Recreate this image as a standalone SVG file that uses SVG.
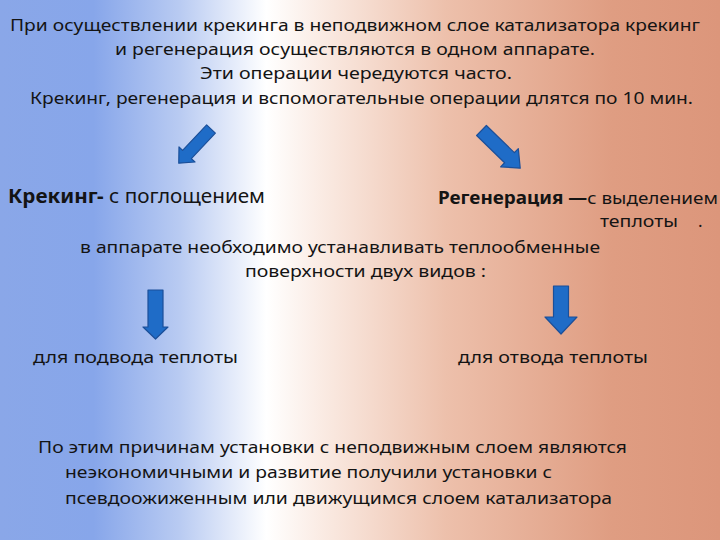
<svg xmlns="http://www.w3.org/2000/svg" width="720" height="540" viewBox="0 0 720 540">
  <defs>
    <linearGradient id="bg" x1="0" y1="0" x2="720" y2="0" gradientUnits="userSpaceOnUse">
      <stop offset="0" stop-color="#8AA7E8"/>
      <stop offset="0.13" stop-color="#87A6EA"/>
      <stop offset="0.25" stop-color="#B9CBF2"/>
      <stop offset="0.37" stop-color="#FFFFFF"/>
      <stop offset="0.45" stop-color="#FAEAE2"/>
      <stop offset="0.62" stop-color="#EDC0AB"/>
      <stop offset="0.85" stop-color="#DF9D82"/>
      <stop offset="1" stop-color="#DC967B"/>
    </linearGradient>
    <path id="arrowShape" d="M0,-6 L-0,-6 Z"/>
  </defs>
  <style>
    text { font-family: "Noto Sans", "Open Sans", "DejaVu Sans", sans-serif; fill: #141414; }
    .t { font-size: 17px; }
    .h { font-size: 19px; }
    .b { font-weight: bold; }
    .s { font-size: 16px; }
    .arrow { fill: #1F6CC7; stroke: #1B4F99; stroke-width: 1.2; stroke-linejoin: round; }
  </style>
  <rect x="0" y="0" width="720" height="540" fill="url(#bg)"/>

  <g id="intro">
    <text class="t" x="10" y="31" textLength="690" lengthAdjust="spacingAndGlyphs">При осуществлении крекинга в неподвижном слое катализатора крекинг</text>
    <text class="t" x="115" y="55" textLength="480" lengthAdjust="spacingAndGlyphs">и регенерация осуществляются в одном аппарате.</text>
    <text class="t" x="200" y="79" textLength="312" lengthAdjust="spacingAndGlyphs">Эти операции чередуются часто.</text>
    <text class="t" x="30" y="104" textLength="663" lengthAdjust="spacingAndGlyphs">Крекинг, регенерация и вспомогательные операции длятся по 10 мин.</text>
  </g>

  <g id="cracking">
    <text class="h" x="8" y="203" textLength="257" lengthAdjust="spacingAndGlyphs"><tspan class="b">Крекинг-</tspan> с поглощением</text>
  </g>

  <g id="regeneration">
    <text class="t" x="438" y="204" textLength="280" lengthAdjust="spacingAndGlyphs"><tspan class="b">Регенерация —</tspan>с выделением</text>
    <text class="t" x="600" y="227" textLength="78" lengthAdjust="spacingAndGlyphs">теплоты</text>
    <text class="t" x="698" y="227">.</text>
  </g>

  <g id="surfaces">
    <text class="t" x="80" y="253" textLength="520" lengthAdjust="spacingAndGlyphs">в аппарате необходимо устанавливать теплообменные</text>
    <text class="t" x="245" y="277" textLength="241" lengthAdjust="spacingAndGlyphs">поверхности двух видов :</text>
  </g>

  <g id="supply">
    <text class="t" x="33" y="363" textLength="205" lengthAdjust="spacingAndGlyphs">для подвода теплоты</text>
  </g>

  <g id="removal">
    <text class="t" x="458" y="363" textLength="190" lengthAdjust="spacingAndGlyphs">для отвода теплоты</text>
  </g>

  <g id="conclusion">
    <text class="s" x="38" y="453" textLength="589" lengthAdjust="spacingAndGlyphs">По этим причинам установки с неподвижным слоем являются</text>
    <text class="s" x="65" y="478" textLength="487" lengthAdjust="spacingAndGlyphs">неэкономичными и развитие получили установки с</text>
    <text class="s" x="65" y="504" textLength="547" lengthAdjust="spacingAndGlyphs">псевдоожиженным или движущимся слоем катализатора</text>
  </g>

  <g id="connectors">
    <path class="arrow" transform="translate(211,129) rotate(133.3)" d="M0,-6 L35,-6 L35,-11 L47,0 L35,11 L35,6 L0,6 Z"/>
    <path class="arrow" transform="translate(481.5,130.5) rotate(44.2)" d="M0,-7 L39,-7 L39,-12.7 L54,0 L39,12.7 L39,7 L0,7 Z"/>
    <path class="arrow" d="M148,290 L163,290 L163,327 L168,327 L155.5,339 L143,327 L148,327 Z"/>
    <path class="arrow" d="M553.5,286 L568.5,286 L568.5,317 L577,317 L561,334 L545,317 L553.5,317 Z"/>
  </g>
</svg>
